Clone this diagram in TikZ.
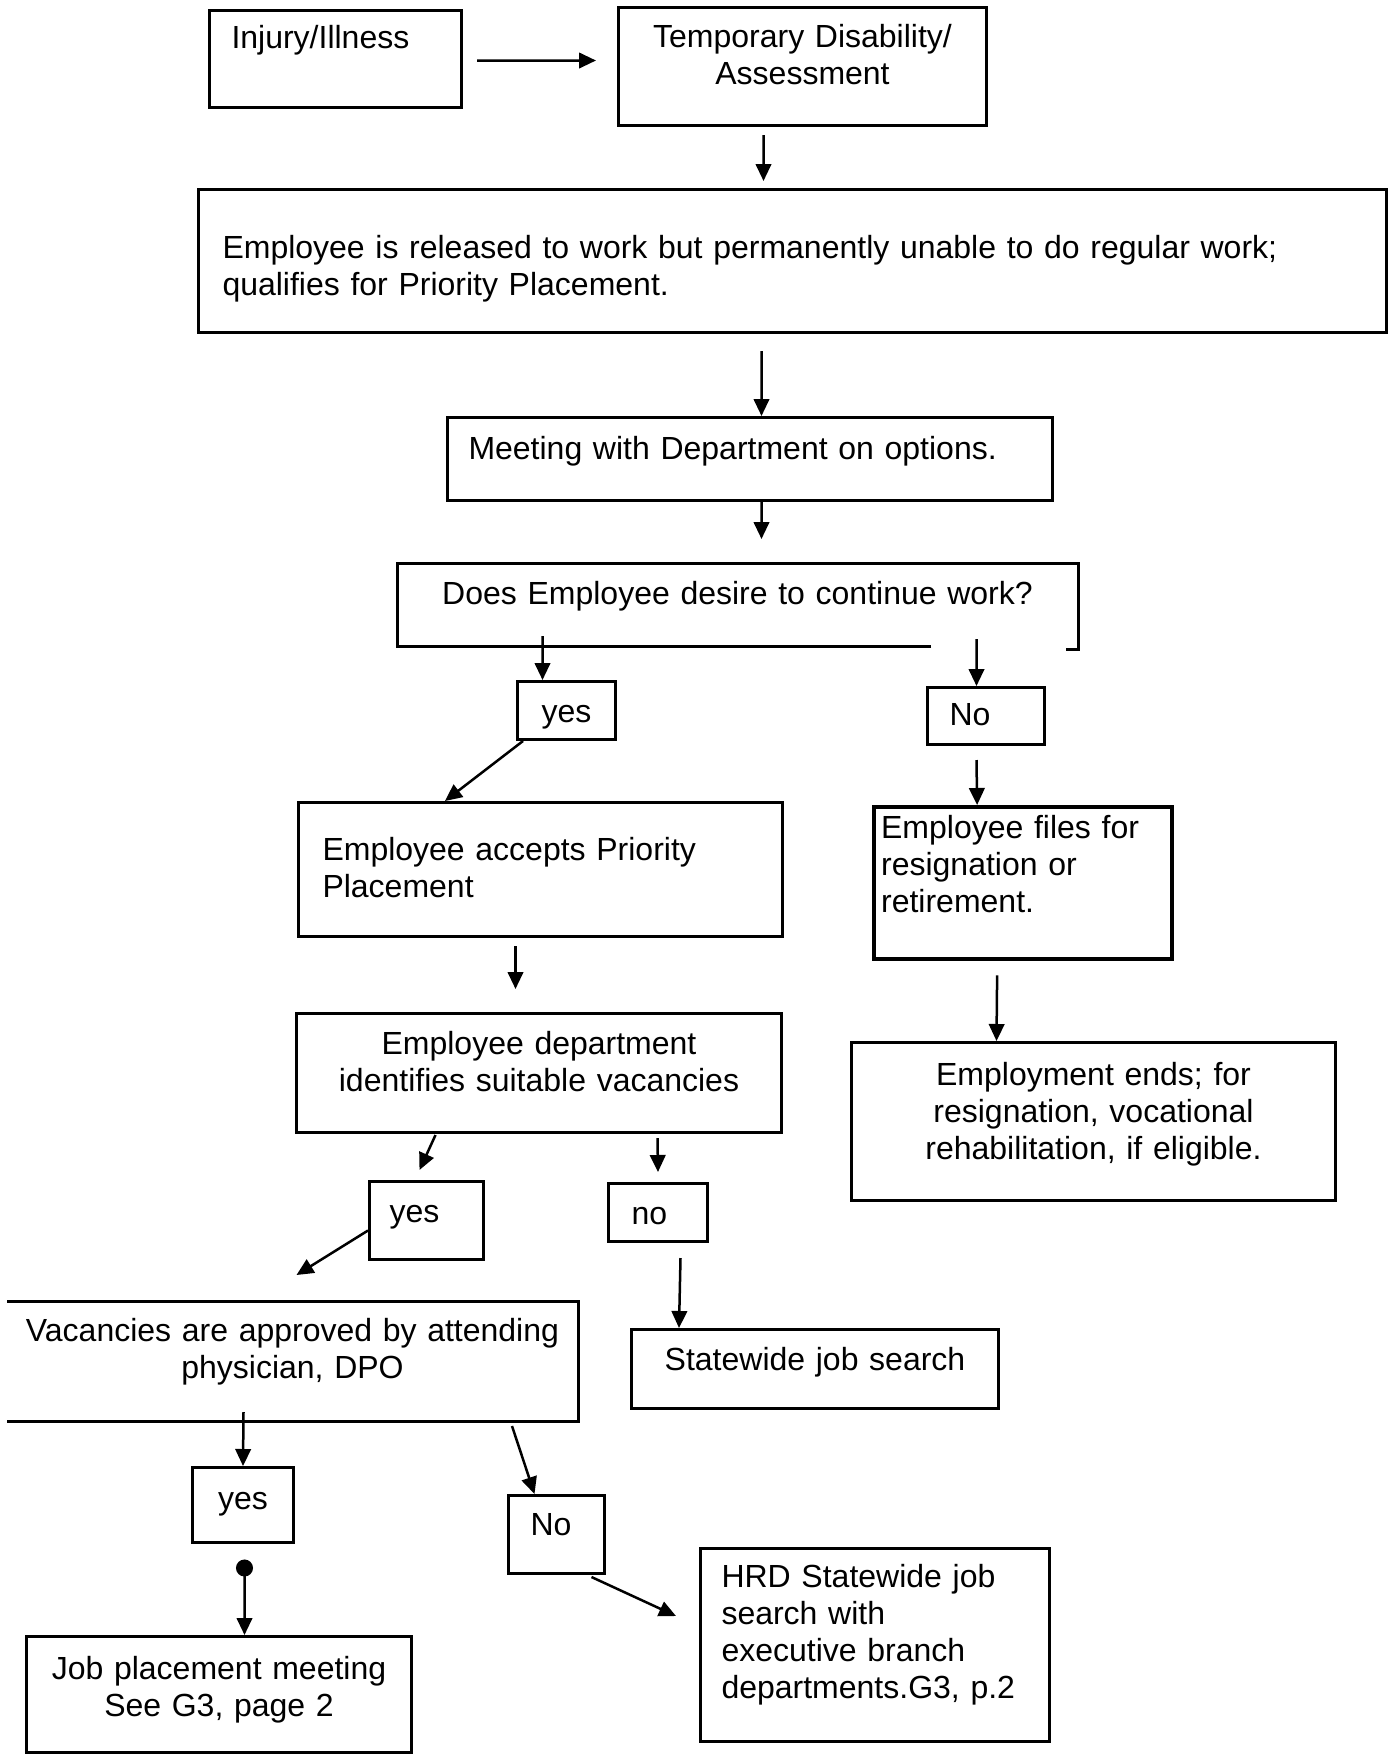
\documentclass[tikz,border=0pt]{standalone}
\usepackage{fontspec}
\setmainfont{Liberation Sans}
\usetikzlibrary{arrows.meta,calc}

\begin{document}
\begin{tikzpicture}[
  x=0.4pt, y=-0.4pt,
  font=\fontsize{12.8}{14.8}\selectfont,
  >={Triangle[length=6.8pt,width=6.2pt]},
  box/.style={
    draw,
    line width=1.2pt,
    anchor=north west,
    inner ysep=0pt,
    inner xsep=4pt
  },
  lbox/.style={box, align=left},
  cbox/.style={box, align=center},
  flow/.style={->, line width=1pt}
]
\fill[white] (0,0) rectangle (1389,1754);
\useasboundingbox (0,0) rectangle (1389,1754);

% Top of the chart
\node[lbox, text width=83.2pt, inner xsep=8.8pt, text height=15.2pt, text depth=23.6pt] (injury) at (208,9) {Injury/Illness};
\node[cbox, text width=139.2pt, text height=16pt, text depth=31.2pt] (tempdis) at (617,6) {Temporary Disability/\\Assessment};
\node[lbox, text width=456pt, inner xsep=9.6pt, text height=27.6pt, text depth=29.6pt] (released) at (197,188) {Employee is released to work but permanently unable to do regular work;\\qualifies for Priority Placement.};
\node[lbox, text width=225.2pt, inner xsep=8.4pt, text height=16.8pt, text depth=16.4pt] (meeting) at (446,416) {Meeting with Department on options.};
\node[cbox, draw=none, text width=263.2pt, text height=16pt, text depth=16pt] (desire) at (397,563) {Does Employee desire to continue work?};
\node[cbox, text width=31.2pt, text height=16.4pt, text depth=6.8pt] (yesA) at (516,680) {yes};
\node[lbox, text width=29.2pt, inner xsep=8.8pt, text height=15.2pt, text depth=7.6pt] (noA) at (926,686) {No};

% Two branches
\node[lbox, text width=174.4pt, inner xsep=9.6pt, text height=23.2pt, text depth=30.4pt] (accepts) at (297,801) {Employee accepts Priority\\Placement};
\node[cbox, text width=186pt, text height=16.4pt, text depth=31.2pt] (identifies) at (295,1012) {Employee department\\identifies suitable vacancies};
\node[lbox, line width=1.7pt, text width=113.6pt, inner xsep=2.8pt, text height=12.4pt, text depth=48.4pt] (files) at (872,805) {Employee files for\\resignation or\\retirement.};
\node[cbox, text width=185.6pt, text height=17.2pt, text depth=46pt] (ends) at (850,1041) {Employment ends; for\\resignation, vocational\\rehabilitation, if eligible.};
\node[lbox, text width=29.6pt, inner xsep=8pt, text height=16.4pt, text depth=14.8pt] (yesB) at (368,1180) {yes};
\node[lbox, text width=21.2pt, inner xsep=9.2pt, text height=16.4pt, text depth=6.8pt] (noB) at (607,1182) {no};

% Lower part
\node[cbox, draw=none, text width=219.2pt, text height=15.6pt, text depth=31.2pt] (vacancies) at (7,1301) {Vacancies are approved by attending\\physician, DPO};
\node[cbox, text width=138.8pt, text height=16.4pt, text depth=15.2pt] (statewide) at (630,1328) {Statewide job search};
\node[cbox, text width=32.4pt, text height=16.8pt, text depth=13.2pt] (yesC) at (191,1466) {yes};
\node[lbox, text width=20.8pt, inner xsep=8.8pt, text height=16pt, text depth=15.2pt] (noC) at (507,1494) {No};
\node[cbox, text width=146pt, text height=17.2pt, text depth=29.2pt] (jobmeet) at (25,1635) {Job placement meeting\\See G3, page 2};
\node[lbox, text width=122.8pt, inner xsep=8.4pt, text height=15.6pt, text depth=61.6pt] (hrd) at (699,1547) {HRD Statewide job\\search with\\executive branch\\departments.G3, p.2};

% Outlines drawn open as in the scan
\draw[line width=1.2pt] ($(desire.south west)+(534,0)$) -- (desire.south west) -- (desire.north west) -- (desire.north east) -- ($(desire.south east)+(0,3)$) -- ++(-12,0);
\draw[line width=1.2pt] (vacancies.north west) -- (vacancies.north east) -- (vacancies.south east) -- (vacancies.south west);

% Connectors
\draw[flow] ($(injury.east)+(14,1.5)$) -- ($(tempdis.west)+(-21,-6)$);
\draw[flow] ($(tempdis.south)+(-39,8)$) -- ($(released.north)+(-29,-7)$);
\draw[flow] ($(released.south)+(-31,17)$) -- ($(meeting.north)+(11.5,0)$);
\draw[flow] ($(meeting.south)+(11.5,0)$) -- ($(desire.north)+(24,-24)$);
\draw[flow] ($(desire.south)+(-195,-10)$) -- ($(yesA.north)+(-24,0)$);
\draw[flow] ($(desire.south)+(239,-7)$) -- ($(noA.north)+(-9.5,0)$);
\draw[flow] ($(yesA.south west)+(7,0)$) -- ($(accepts.north west)+(148,0)$);
\draw[flow] ($(accepts.south)+(-25,8)$) -- ($(identifies.north)+(-23.5,-23)$);
\draw[flow] ($(noA.south)+(-9.5,14)$) -- ($(files.north)+(-46,0)$);
\draw[flow] ($(files.south)+(-26,14)$) -- ($(ends.north)+(-97,0)$);
\draw[flow] ($(identifies.south)+(-103.5,1)$) -- ($(yesB.north)+(-7,-10)$);
\draw[flow] ($(identifies.south)+(118.5,4)$) -- ($(noB.north)+(0,-10)$);
\draw[flow] ($(yesB.west)+(0,10)$) -- ($(vacancies.north)+(4,-26)$);
\draw[flow] ($(noB.south)+(22.5,15)$) -- ($(statewide.north west)+(49,0)$);
\draw[flow] ($(vacancies.south)+(-49,-9)$) -- (yesC.north);
\draw[flow, {Circle[length=6.8pt]}->] ($(yesC.south)+(1.5,15.5)$) -- ($(jobmeet.north)+(25.5,0)$);
\draw[flow] ($(vacancies.south east)+(-66,5)$) -- ($(noC.north)+(-22,0)$);
\draw[flow] ($(noC.south)+(35,2)$) -- ($(hrd.north west)+(-23,69)$);

\end{tikzpicture}
\end{document}
